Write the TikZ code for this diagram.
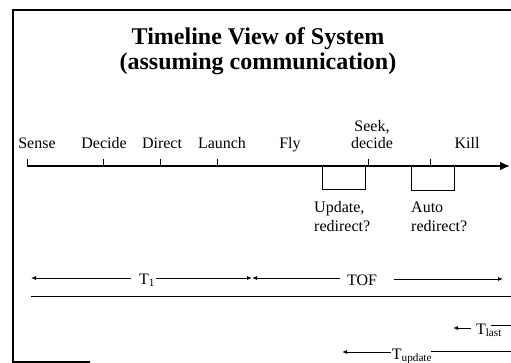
\documentclass[tikz,border=0pt]{standalone}
\usepackage{fontspec}
\setmainfont{Liberation Serif}
\usetikzlibrary{arrows.meta}

\begin{document}
\begin{tikzpicture}[x=1pt,y=-1pt,
  lbl/.style={font=\fontsize{16}{17}\selectfont,align=center,inner sep=1pt,anchor=base},
  note/.style={font=\fontsize{16}{19}\selectfont,align=left,anchor=base west,inner sep=1pt},
  span/.style={line width=0.9pt},
  tick/.style={line width=0.8pt}]
  \useasboundingbox (0,0) rectangle (511,363);
  % frame
  \draw[line width=1.2pt] (511,10) -- (13,10) -- (13,362) -- (90,362);
  \node[font=\bfseries\fontsize{24}{25}\selectfont,align=center] (title) at (258,51)
    {Timeline View of System\\(assuming communication)};
  % the time axis
  \coordinate (t0) at (27,166);
  \coordinate (tend) at (510,166);
  \draw[line width=2pt,-{Latex[length=10pt,width=9pt]}] (t0) -- (tend);
  \foreach \x in {27,103,160,217,368,430} {\draw[tick] (\x,166) -- (\x,159);}
  \node[lbl] (sense) at (37,149) {Sense};
  \node[lbl] (decide) at (104,149) {Decide};
  \node[lbl] (direct) at (162,149) {Direct};
  \node[lbl] (launch) at (222,149) {Launch};
  \node[lbl] (fly) at (290,149) {Fly};
  \node[lbl] (seek) at (372,149) {Seek,\\decide};
  \node[lbl] (kill) at (467,149) {Kill};
  % windows below the axis
  \draw[tick] (322,167) |- (365,189) -- (365,167);
  \draw[tick] (411,167) |- (454,190) -- (454,167);
  \node[note] (update) at (313,232) {Update,\\redirect?};
  \node[note] (auto) at (410,232) {Auto\\redirect?};
  % spans
  \node[lbl] (t1) at (147,284) {T\textsubscript{1}};
  \coordinate (t1l) at (31,278);
  \coordinate (mid) at (252,278);
  \draw[span,-{Latex[length=5pt,width=4pt]}] ([xshift=-7pt]t1.west |- mid) -- (t1l);
  \draw[span,-{Latex[length=5pt,width=4pt]}] (t1.east |- mid) -- (mid);
  \node[lbl] (tof) at (362,285) {TOF};
  \coordinate (tofr) at (503,279);
  \draw[span,-{Latex[length=5pt,width=4pt]}] ([xshift=-6pt]tof.west |- mid) -- (mid);
  \draw[span,-{Latex[length=5pt,width=4pt]}] ([xshift=16pt]tof.east |- tofr) -- (tofr);
  \coordinate (sl) at (31,296);
  \coordinate (sr) at (511,296);
  \draw[span] (sl) -- (sr);
  \node[lbl] (tlast) at (489,334) {T\textsubscript{last}};
  \coordinate (tlastl) at (453,328);
  \coordinate (tlastr) at (511,325);
  \draw[span,-{Latex[length=5pt,width=4pt]}] ([xshift=-4pt]tlast.west |- tlastl) -- (tlastl);
  \draw[span] ([xshift=-12pt]tlast.east |- tlastr) -- (tlastr);
  \node[lbl] (tupd) at (412,359) {T\textsubscript{update}};
  \coordinate (tupdl) at (342,352);
  \coordinate (tupdr) at (511,351);
  \draw[span,-{Latex[length=5pt,width=4pt]}] (tupd.west |- tupdl) -- (tupdl);
  \draw[span] ([xshift=-2pt]tupd.east |- tupdr) -- (tupdr);
\end{tikzpicture}
\end{document}
